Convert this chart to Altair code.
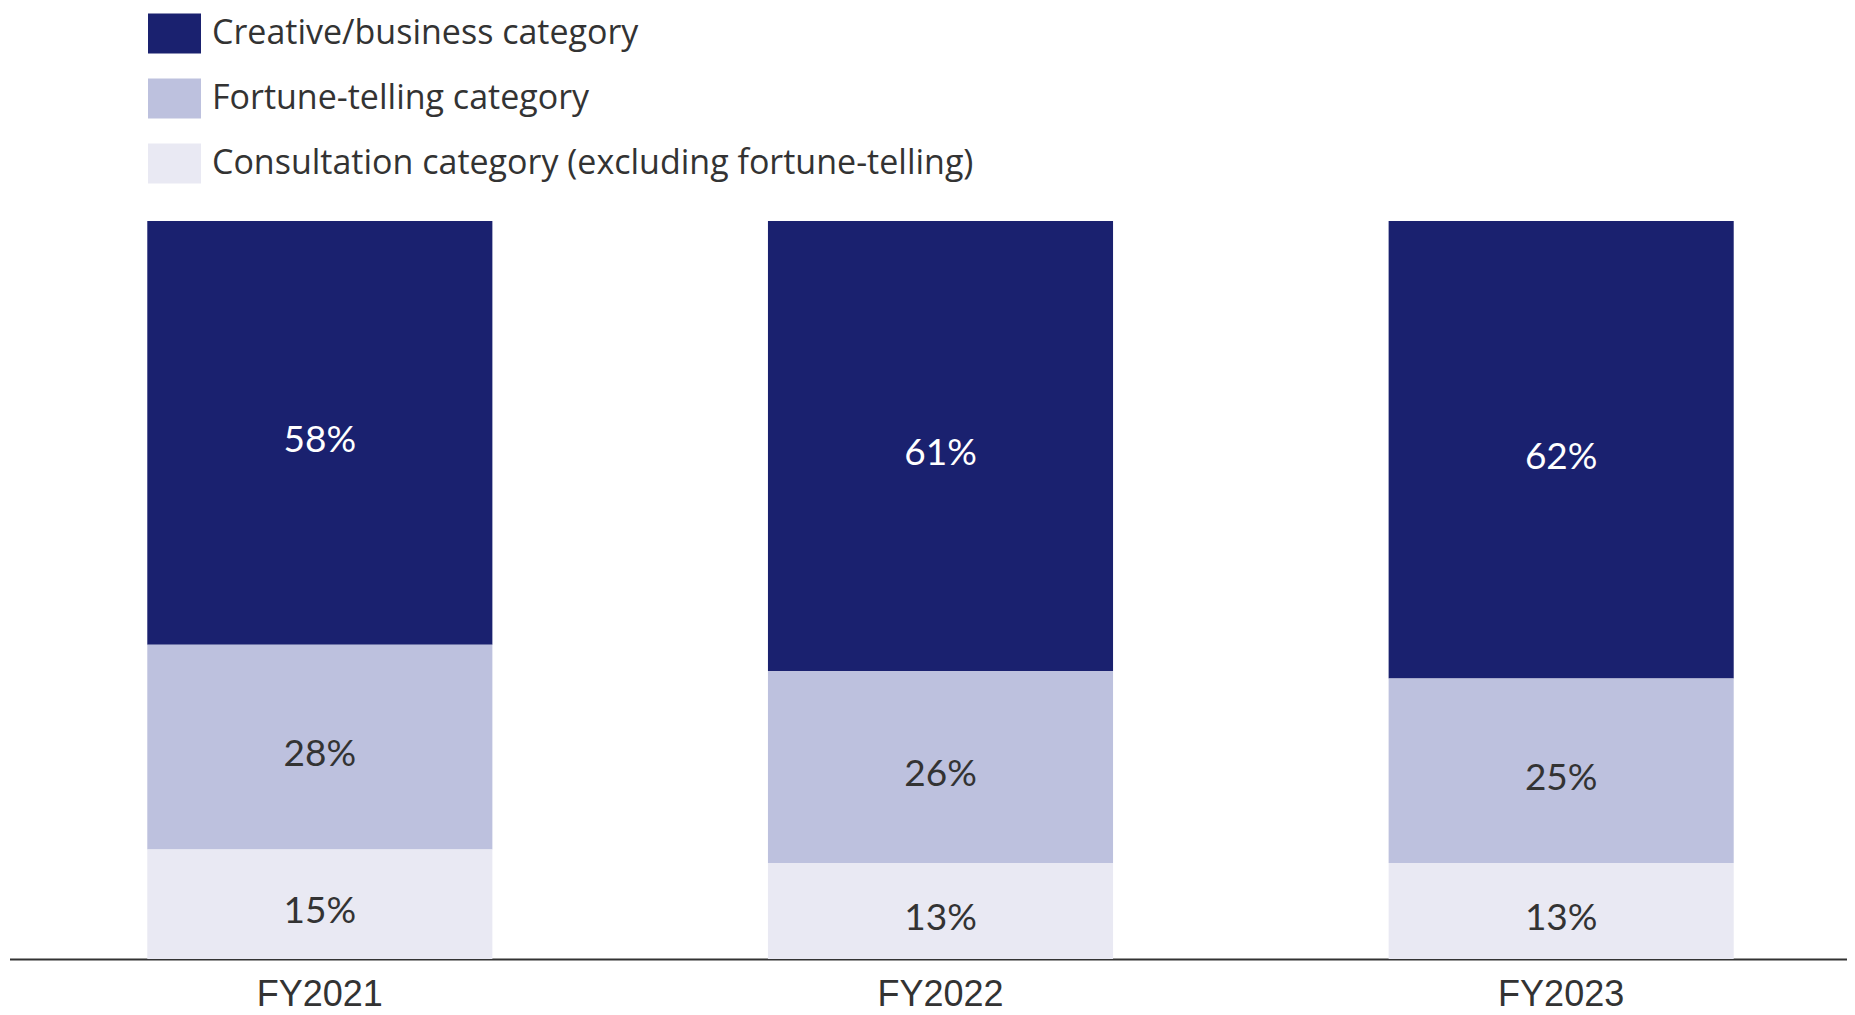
import altair as alt
import pandas as pd

years = ["FY2021", "FY2022", "FY2023"]
categories = [
    "Creative/business category",
    "Fortune-telling category",
    "Consultation category (excluding fortune-telling)",
]
creative = [58, 61, 62]
fortune = [28, 26, 25]
consultation = [15, 13, 13]

colors = ["#1a216f", "#bdc1de", "#e9e9f3"]
label_colors = ["#ffffff", "#333333", "#333333"]

rows = []
series = [creative, fortune, consultation]
for i, yr in enumerate(years):
    for j, cat in enumerate(categories):
        v = series[j][i]
        rows.append({
            "year": yr,
            "category": cat,
            "value": v,
            "order": 2 - j,
            "label": f"{v}%",
            "labelColor": label_colors[j],
        })
df = pd.DataFrame(rows)

FONT = "Lato"

base = alt.Chart(df).transform_stack(
    stack="value",
    groupby=["year"],
    sort=[alt.SortField("order", order="ascending")],
    as_=["y0", "y1"],
    offset="normalize",
)

xenc = alt.X(
    "year:N",
    sort=years,
    scale=alt.Scale(range=[1.5, 1863.5], paddingInner=0.444, paddingOuter=0.222),
    axis=alt.Axis(
        title=None,
        labelAngle=0,
        labelFont="Liberation Sans",
        labelFontSize=36,
        labelColor="#333333",
        labelPadding=18,
        labelBaseline="top",
        ticks=False,
        grid=False,
        domainColor="#333333",
        domainWidth=2,
    ),
)

bars = base.mark_bar().encode(
    x=xenc,
    y=alt.Y("y0:Q", scale=alt.Scale(domain=[0, 1]), axis=None),
    y2="y1:Q",
    color=alt.Color(
        "category:N",
        sort=categories,
        scale=alt.Scale(domain=categories, range=colors),
        legend=alt.Legend(
            orient="none",
            legendX=140,
            legendY=-214,
            title=None,
            symbolType="M-1,-0.755H1V0.755H-1Z",
            symbolSize=2809,
            symbolStrokeWidth=0,
            labelFont="Open Sans",
            labelFontSize=34,
            labelColor="#333333",
            labelOffset=11,
            labelLimit=1200,
            rowPadding=18,
            padding=0,
        ),
    ),
)

texts = base.transform_calculate(mid="(datum.y0 + datum.y1) / 2").mark_text(
    font=FONT, fontSize=37, baseline="middle", align="center", dy=8
).encode(
    x=alt.X("year:N", sort=years),
    y=alt.Y("mid:Q"),
    text="label:N",
    fill=alt.Fill("labelColor:N", scale=None),
)

chart = (
    alt.layer(bars, texts)
    .properties(
        width=1839,
        height=738,
        autosize="none",
        padding={"top": 213, "left": 0, "right": 0, "bottom": 48},
    )
    .configure_view(strokeWidth=0)
)

chart.save("out.html", embed_options={"renderer": "svg", "actions": False})
